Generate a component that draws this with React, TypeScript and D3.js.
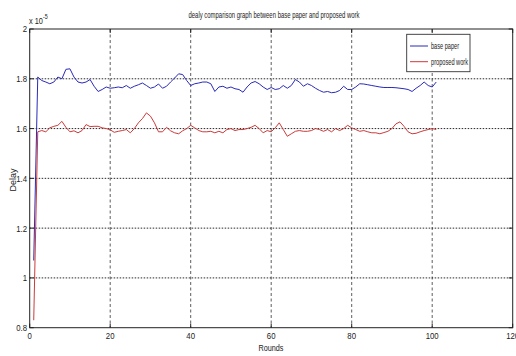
import React from "react";
import * as d3 from "d3";

// Delay per round (values in units of 1e-5)
const rounds: number[] = Array.from({ length: 101 }, (_, i) => i + 1);

const basePaper: number[] = [
  1.07, 1.807, 1.793, 1.787, 1.78, 1.787, 1.807, 1.8, 1.838, 1.84,
  1.807, 1.787, 1.783, 1.787, 1.797, 1.77, 1.749, 1.757, 1.767, 1.762,
  1.764, 1.767, 1.764, 1.773, 1.762, 1.77, 1.776, 1.783, 1.773, 1.762,
  1.767, 1.779, 1.762, 1.77, 1.787, 1.803, 1.82, 1.817, 1.793, 1.773,
  1.78, 1.783, 1.787, 1.787, 1.78, 1.749, 1.767, 1.77, 1.762, 1.767,
  1.76, 1.757, 1.746, 1.767, 1.783, 1.789, 1.78, 1.767, 1.757, 1.765,
  1.757, 1.76, 1.773, 1.762, 1.773, 1.797, 1.787, 1.77, 1.78, 1.773,
  1.762, 1.753, 1.746, 1.749, 1.744, 1.746, 1.753, 1.77, 1.757, 1.757,
  1.767, 1.78, 1.779, 1.776, 1.773, 1.77, 1.767, 1.765, 1.765, 1.765,
  1.764, 1.762, 1.76, 1.757, 1.749, 1.762, 1.773, 1.787, 1.773, 1.767,
  1.787,
];

const proposedWork: number[] = [
  0.83, 1.587, 1.592, 1.587, 1.603, 1.609, 1.613, 1.629, 1.605, 1.587,
  1.591, 1.583, 1.592, 1.616, 1.608, 1.609, 1.609, 1.603, 1.6, 1.595,
  1.585, 1.589, 1.592, 1.596, 1.583, 1.6, 1.623, 1.64, 1.663, 1.65,
  1.623, 1.587, 1.587, 1.605, 1.591, 1.583, 1.579, 1.591, 1.6, 1.613,
  1.603, 1.592, 1.587, 1.587, 1.589, 1.583, 1.589, 1.583, 1.596, 1.6,
  1.592, 1.596, 1.596, 1.6, 1.605, 1.613, 1.6, 1.583, 1.592, 1.587,
  1.603, 1.623, 1.596, 1.569, 1.579, 1.589, 1.592, 1.589, 1.589, 1.592,
  1.6, 1.596, 1.589, 1.596, 1.587, 1.6, 1.592, 1.6, 1.613, 1.603,
  1.596, 1.589, 1.592, 1.587, 1.583, 1.583, 1.579, 1.584, 1.589, 1.6,
  1.619, 1.627, 1.609, 1.587, 1.579, 1.581, 1.587, 1.592, 1.596, 1.6,
  1.596,
];

const xTicks: number[] = [0, 20, 40, 60, 80, 100, 120];
const yTicks: number[] = [0.8, 1, 1.2, 1.4, 1.6, 1.8, 2];
const seriesNames: string[] = ["base paper", "proposed work"];

const W = 516;
const H = 356;
const left = 29.7;
const right = 512.7;
const top = 29;
const bottom = 327.7;

const BLUE = "#2a2ab8";
const RED = "#cc3a3a";
const FONT = "'Liberation Sans', Arial, sans-serif";

export default function App() {
  const x = d3.scaleLinear().domain([0, 120]).range([left, right]);
  const y = d3.scaleLinear().domain([0.8, 2]).range([bottom, top]);

  const line = d3
    .line<number>()
    .x((_, i) => x(rounds[i]))
    .y((d) => y(d));

  const yFmt = (v: number) => (v === 1 || v === 2 ? String(v) : v.toFixed(1));

  return (
    <svg
      width={W}
      height={H}
      style={{ position: "absolute", left: 0, top: 0, background: "#fff" }}
      fontFamily={FONT}
    >
      <rect x={0} y={0} width={W} height={H} fill="#fff" />

      {/* grid */}
      {xTicks.slice(1, -1).map((t) => (
        <line
          key={"gx" + t}
          x1={x(t)}
          x2={x(t)}
          y1={top}
          y2={bottom}
          stroke="#333"
          strokeWidth={0.8}
          strokeDasharray="3,2.5"
        />
      ))}
      {yTicks.slice(1, -1).map((t) => (
        <line
          key={"gy" + t}
          x1={left}
          x2={right}
          y1={y(t)}
          y2={y(t)}
          stroke="#111"
          strokeWidth={0.9}
          strokeDasharray="1.5,1.5"
        />
      ))}

      {/* series */}
      <path d={line(basePaper) || ""} fill="none" stroke={BLUE} strokeWidth={1} />
      <path d={line(proposedWork) || ""} fill="none" stroke={RED} strokeWidth={1} />

      {/* axes box */}
      <rect
        x={left}
        y={top}
        width={right - left}
        height={bottom - top}
        fill="none"
        stroke="#222"
        strokeWidth={1}
      />

      {/* ticks */}
      {xTicks.map((t) => (
        <g key={"xt" + t}>
          <line x1={x(t)} x2={x(t)} y1={bottom} y2={bottom - 4} stroke="#222" />
          <line x1={x(t)} x2={x(t)} y1={top} y2={top + 4} stroke="#222" />
          <text
            x={x(t)}
            y={339}
            fontSize={9.5}
            textAnchor="middle"
            fill="#222"
            transform={`translate(${x(t)},0) scale(0.82,1) translate(${-x(t)},0)`}
          >
            {t}
          </text>
        </g>
      ))}
      {yTicks.map((t) => (
        <g key={"yt" + t}>
          <line x1={left} x2={left + 4} y1={y(t)} y2={y(t)} stroke="#222" />
          <line x1={right} x2={right - 4} y1={y(t)} y2={y(t)} stroke="#222" />
          <text
            x={27}
            y={y(t) + 3.5}
            fontSize={9.5}
            textAnchor="end"
            fill="#222"
            transform={`translate(27,0) scale(0.82,1) translate(-27,0)`}
          >
            {yFmt(t)}
          </text>
        </g>
      ))}

      {/* exponent */}
      <text x={29} y={24} fontSize={9} fill="#222" transform="translate(29,0) scale(0.82,1) translate(-29,0)">
        x 10
        <tspan dy={-5} fontSize={6.5}>-5</tspan>
      </text>

      {/* title */}
      <text x={274} y={18} fontSize={9} textAnchor="middle" fill="#222" textLength={171} lengthAdjust="spacingAndGlyphs">
        dealy comparison graph between base paper and proposed work
      </text>

      {/* axis labels */}
      <text x={271} y={351} fontSize={9} textAnchor="middle" fill="#222" textLength={25} lengthAdjust="spacingAndGlyphs">
        Rounds
      </text>
      <text
        x={0}
        y={0}
        fontSize={9}
        textAnchor="middle"
        fill="#222"
        transform={`translate(15.5,180) rotate(-90)`}
      >
        Delay
      </text>

      {/* legend */}
      <rect x={406.7} y={34.3} width={63.3} height={37.4} fill="#fff" stroke="#333" strokeWidth={0.9} />
      {seriesNames.map((name, i) => {
        const cy = 46 + i * 15.7;
        return (
          <g key={name}>
            <line x1={410} x2={428} y1={cy} y2={cy} stroke={i === 0 ? BLUE : RED} strokeWidth={1} />
            <text
              x={431}
              y={cy + 3}
              fontSize={9}
              fill="#222"
              textLength={i === 0 ? 28 : 37}
              lengthAdjust="spacingAndGlyphs"
            >
              {name}
            </text>
          </g>
        );
      })}
    </svg>
  );
}
